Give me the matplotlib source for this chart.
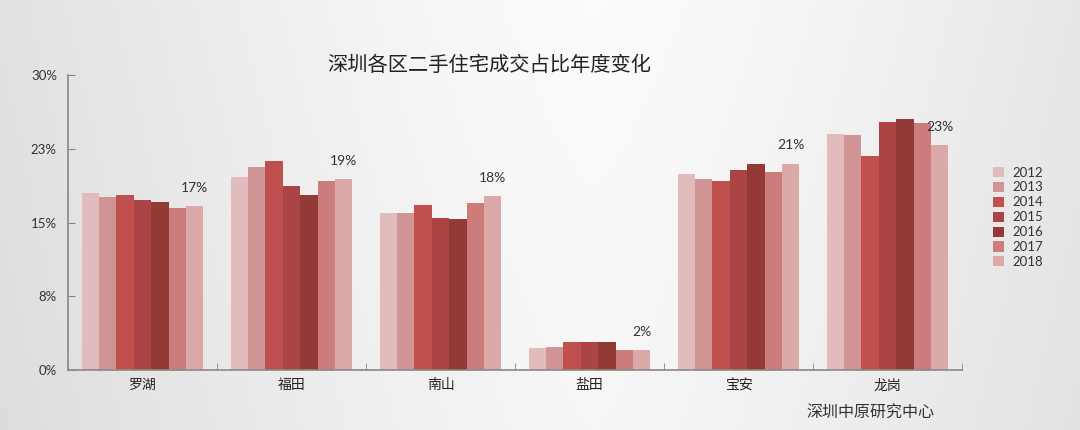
import numpy as np
import matplotlib
matplotlib.use("Agg")
import matplotlib.pyplot as plt
from matplotlib.ticker import FuncFormatter

plt.rcParams['font.family'] = ['Lato', 'Noto Sans CJK SC', 'DejaVu Sans']

districts = ["罗湖", "福田", "南山", "盐田", "宝安", "龙岗"]
years = ["2012", "2013", "2014", "2015", "2016", "2017", "2018"]
v2012 = [18.05, 19.6, 16.0, 2.2, 19.9, 24.0]
v2013 = [17.6, 20.6, 16.0, 2.35, 19.4, 23.9]
v2014 = [17.85, 21.3, 16.8, 2.9, 19.25, 21.8]
v2015 = [17.3, 18.7, 15.5, 2.8, 20.3, 25.2]
v2016 = [17.1, 17.85, 15.4, 2.8, 21.0, 25.5]
v2017 = [16.5, 19.2, 17.0, 2.0, 20.1, 25.1]
v2018 = [16.7, 19.4, 17.7, 2.0, 21.0, 22.9]
series = [v2012, v2013, v2014, v2015, v2016, v2017, v2018]
colors = ["#e2bcbd", "#d19495", "#c0504d", "#ab4444", "#933a37", "#cc7d7b", "#dca9a9"]
title = "深圳各区二手住宅成交占比年度变化"
source = "深圳中原研究中心"

fig = plt.figure(figsize=(10.8, 4.3), dpi=100)

# background gradient
bg = fig.add_axes([0, 0, 1, 1], zorder=-10)
xs = np.linspace(0, 1, 400)
ys = np.linspace(0, 1, 200)
X, Y = np.meshgrid(xs, ys)
horiz = 0.985 - 0.10 * np.abs(X - 0.55) ** 1.3 / (0.55 ** 1.3)
vert = -0.02 * Y
val = np.clip(horiz + vert, 0, 1)
bg.imshow(np.dstack([val, val, val]), extent=[0, 1, 0, 1], aspect='auto', origin='upper')
bg.axis('off')

ax = fig.add_axes([0.063, 0.1395, 0.8278, 0.686])
ax.patch.set_alpha(0)
n = len(years)
w = 0.1168
x = np.arange(len(districts))
for j, (s, c, yl) in enumerate(zip(series, colors, years)):
    ax.bar(x + (j - (n - 1) / 2) * w, s, width=w, color=c, label=yl, zorder=2, linewidth=0)

# labels above 2018 bars
for i, v in enumerate(v2018):
    ax.annotate(f"{v:.0f}%", (x[i] + 3 * w, v), xytext=(0, 13), textcoords='offset points',
                ha='center', va='center', fontsize=10, color='#333333')

ax.set_xlim(-0.5, len(districts) - 0.5)
ax.set_ylim(0, 30)
ax.set_yticks([0, 7.5, 15, 22.5, 30])
ax.yaxis.set_major_formatter(FuncFormatter(lambda v, p: f"{v:.0f}%" if v != 22.5 else "23%"))
ax.set_xticks(x)
ax.set_xticklabels(districts, fontsize=10, family=['Noto Sans CJK SC', 'DejaVu Sans'])
ax.set_xticks(np.arange(-0.5, len(districts), 1), minor=True)
ax.tick_params(axis='x', which='major', length=0, pad=6, colors='#222222')
ax.tick_params(axis='x', which='minor', length=5, direction='in', color='#888888')
ax.tick_params(axis='y', length=5, direction='in', color='#888888', labelsize=9.5,
               labelcolor='#333333', pad=8)
for sp in ['top', 'right']:
    ax.spines[sp].set_visible(False)
for sp in ['left', 'bottom']:
    ax.spines[sp].set_color('#888888')
    ax.spines[sp].set_linewidth(1.2)

leg = ax.legend(loc='upper left', bbox_to_anchor=(0.915, 0.625), bbox_transform=fig.transFigure,
                frameon=False, fontsize=9.5, handlelength=0.8, handleheight=0.8,
                handletextpad=0.6, labelspacing=0.22, borderaxespad=0)
for t in leg.get_texts():
    t.set_color('#333333')

fig.text(0.453, 0.848, title, ha='center', va='center', fontsize=14.6,
         family=['Noto Sans CJK SC', 'DejaVu Sans'], color='#222222', fontweight='light')
fig.text(0.806, 0.04, source, ha='center', va='center', fontsize=11.5,
         family=['Noto Sans CJK SC', 'DejaVu Sans'], color='#333333')

fig.savefig("out.png", dpi=100)
